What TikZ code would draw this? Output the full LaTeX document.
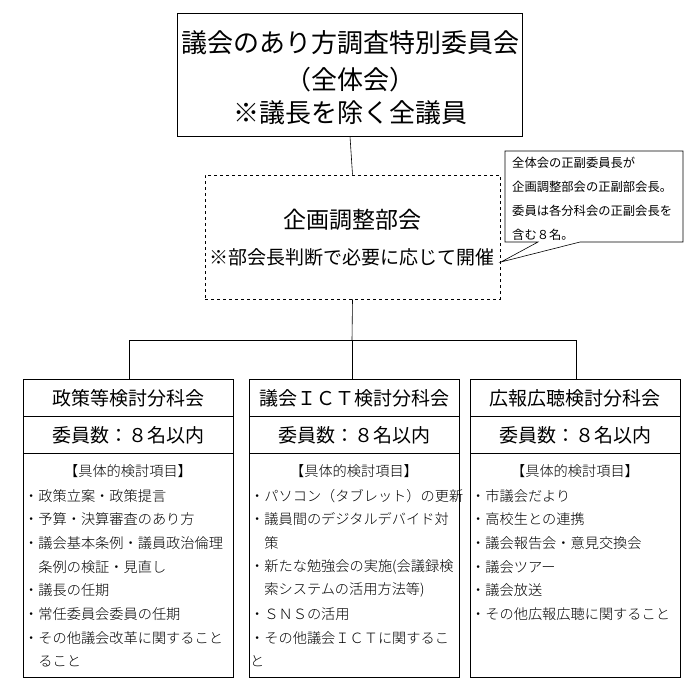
\documentclass[tikz,border=0pt]{standalone}
\usepackage{fontspec}
\setmainfont{Noto Sans CJK JP}
\newfontfamily\jl{Noto Sans CJK JP Light}
\begin{document}
\begin{tikzpicture}[x=1pt,y=-1pt,
  box/.style={draw,line width=0.8pt},
  ln/.style={line width=0.6pt},
  itm/.style={anchor=west,inner sep=0pt,font=\jl\fontsize{14.2}{16}\selectfont},
  hd/.style={inner sep=0pt,font=\fontsize{19}{22}\selectfont}]
\useasboundingbox (0,0) rectangle (690,685);
% top
\node[box,minimum width=345pt,minimum height=123pt,inner sep=0pt] (top) at (350,74.5) {};
\node[inner sep=0pt,font=\fontsize{26}{30}\selectfont] (t1) at (350,43) {議会のあり方調査特別委員会};
\node[inner sep=0pt,font=\fontsize{26}{30}\selectfont] (t2) at (350,80) {（全体会）};
\node[inner sep=0pt,font=\fontsize{26}{30}\selectfont] (t3) at (350,113) {※議長を除く全議員};
% planning
\node[draw,dashed,line width=0.8pt,minimum width=295pt,minimum height=124pt,inner sep=0pt] (plan) at (352.5,237) {};
\node[inner sep=0pt,font=\fontsize{23}{26}\selectfont] (p1) at (352,220) {企画調整部会};
\node[inner sep=0pt,font=\fontsize{19}{22}\selectfont] (p2) at (352,257) {※部会長判断で必要に応じて開催};
\draw[ln] (top.south) -- (plan.north);
% callout
\coordinate (tip) at (501,262);
\draw[ln,fill=white] (505,151) -- (683,151) -- (683,242) -- (580,242) -- (tip) -- (538,242) -- (505,242) -- cycle;
\foreach \t/\y in {全体会の正副委員長が/163,企画調整部会の正副部会長。/187,委員は各分科会の正副会長を/211,含む８名。/235}
  \node[anchor=west,inner sep=0pt,font=\fontsize{12.3}{14}\selectfont] at (512,\y) {\t};
% tree
\coordinate (j) at (352,340);
\draw[ln] (plan.south) -- (j);
\draw[ln] (129,340) -- (576,340);
\foreach \n/\l/\r/\h in {a/23/233/政策等検討分科会,b/249/459/議会ＩＣＴ検討分科会,c/470/680/広報広聴検討分科会}{
  \node[box,minimum width={\r-\l},minimum height=298pt,inner sep=0pt] (\n) at ({(\l+\r)/2},528) {};
  \draw[line width=0.8pt] (\l,416) -- (\r,416) (\l,453) -- (\r,453);
  \node[hd] (\n h) at ({(\l+\r)/2},398) {\h};
  \node[hd] (\n c) at ({(\l+\r)/2},435) {委員数：８名以内};
  \node[itm,anchor=center] (\n k) at ({(\l+\r)/2},471) {【具体的検討項目】};
}
\draw[ln] (129,340) -- (a.north -| 129,0);
\draw[ln] (j) -- (b.north -| 352,0);
\draw[ln] (576,340) -- (c.north -| 576,0);
% items
\foreach \t/\y in {・政策立案・政策提言/496,・予算・決算審査のあり方/519,・議会基本条例・議員政治倫理/543,\hspace{1em}条例の検証・見直し/567,・議長の任期/590,・常任委員会委員の任期/614,・その他議会改革に関すること/638,\hspace{1em}ること/661}
  \node[itm] at (24,\y) {\t};
\foreach \t/\y in {・パソコン（タブレット）の更新/496,・議員間のデジタルデバイド対/519,\hspace{1em}策/543,・新たな勉強会の実施(会議録検/567,\hspace{1em}索システムの活用方法等)/590,・ＳＮＳの活用/614,・その他議会ＩＣＴに関するこ/638,と/661}
  \node[itm] at (250,\y) {\t};
\foreach \t/\y in {・市議会だより/496,・高校生との連携/519,・議会報告会・意見交換会/543,・議会ツアー/567,・議会放送/590,・その他広報広聴に関すること/614}
  \node[itm] at (471,\y) {\t};
\end{tikzpicture}
\end{document}
